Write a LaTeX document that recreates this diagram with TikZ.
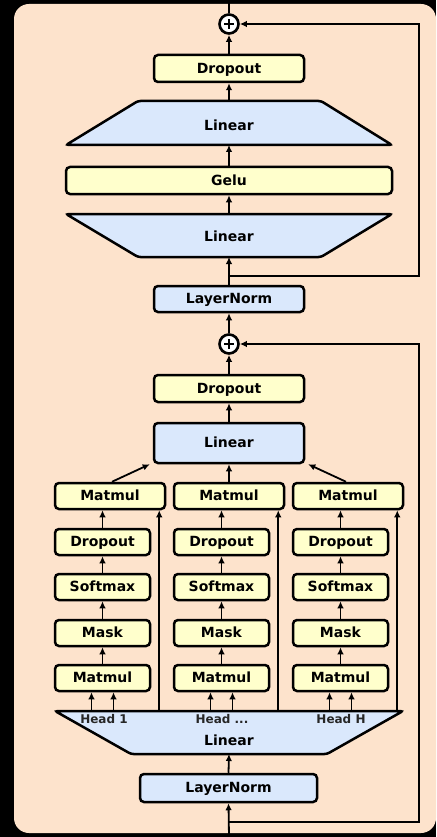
\documentclass[tikz,border=0pt]{standalone}
\usepackage{fontspec}
\setmainfont{DejaVu Sans}
\usepackage{tikz}
\usetikzlibrary{positioning,arrows.meta}

\definecolor{peach}{HTML}{FDE3CC}
\definecolor{lightyel}{HTML}{FFFFCC}
\definecolor{lightblu}{HTML}{DAE8FC}

\tikzset{
  box/.style={draw, line width=2.5pt, rounded corners=4pt, inner sep=0pt,
    text height=9.6pt, text depth=0pt, font=\bfseries\fontsize{14}{16}\selectfont},
  ybox/.style={box, fill=lightyel},
  bbox/.style={box, fill=lightblu},
  trap/.style={draw, line width=2.5pt, rounded corners=2.5pt, fill=lightblu},
  lbl/.style={font=\bfseries\fontsize{14}{16}\selectfont},
  headlbl/.style={font=\bfseries\fontsize{12}{14}\selectfont, text=black!85},
  wire/.style={line width=1.8pt},
  arr/.style={wire, -{Latex[length=7pt,width=6.5pt]}},
  addop/.style={circle, draw, line width=2.6pt, fill=white, minimum size=19pt, inner sep=0pt,
    path picture={\draw[line width=2.4pt] (path picture bounding box.center) +(-5pt,0) -- +(5pt,0)
      (path picture bounding box.center) +(0,-5pt) -- +(0,5pt);}},
}

\begin{document}
\begin{tikzpicture}[x=1pt,y=-1pt]
\useasboundingbox (0,0) rectangle (436,837);
\fill[black] (0,0) rectangle (436,837);
\fill[peach, rounded corners=15pt] (14,4) rectangle (436,833);

% mlp block
\node[addop] (addB) at (229,24) {};
\node[ybox, minimum width=150pt, minimum height=27pt] (dropB) at (229,68.5) {Dropout};
\draw[trap] (66,145) -- (138,101) -- (321,101) -- (392,145) -- cycle;
\node[lbl] (linB) at (229,125.5) {Linear};
\coordinate (linBt) at (229,101);
\coordinate (linBb) at (229,145);
\node[ybox, minimum width=326pt, minimum height=27pt] (gelu) at (229,180.5) {Gelu};
\draw[trap] (66,214) -- (392,214) -- (321,257) -- (138,257) -- cycle;
\node[lbl] (linA) at (229,236) {Linear};
\coordinate (linAt) at (229,214);
\coordinate (linAb) at (229,257);
\node[bbox, minimum width=150pt, minimum height=26pt] (normB) at (229,299) {LayerNorm};
\coordinate (splitB) at (229,276);
\coordinate (rightB) at (419,276);
\coordinate (out) at (229,0);

\draw[wire] (addB.north) -- (out);
\draw[arr] (dropB.north) -- (addB.south);
\draw[arr] (linBt) -- (dropB.south);
\draw[arr] (gelu.north) -- (linBb);
\draw[arr] (linAt) -- (gelu.south);
\draw[arr] (normB.north) -- (linAb);
\draw[arr] (splitB) -- (rightB) |- (addB.east);

% attention block
\node[addop] (addA) at (229,344) {};
\node[ybox, minimum width=150pt, minimum height=27pt] (dropA) at (229,388.5) {Dropout};
\node[bbox, minimum width=150pt, minimum height=40pt] (linP) at (229,443) {Linear};

\node[ybox, minimum width=110pt, minimum height=26pt] (mmT1) at (110,496) {Matmul};
\node[ybox, minimum width=110pt, minimum height=26pt] (mmT2) at (229,496) {Matmul};
\node[ybox, minimum width=110pt, minimum height=26pt] (mmT3) at (348,496) {Matmul};

\node[ybox, minimum width=95pt, minimum height=26pt] (drop1) at (102.5,542) {Dropout};
\node[ybox, minimum width=95pt, minimum height=26pt] (drop2) at (221.5,542) {Dropout};
\node[ybox, minimum width=95pt, minimum height=26pt] (drop3) at (340.5,542) {Dropout};

\node[ybox, minimum width=95pt, minimum height=26pt] (soft1) at (102.5,587) {Softmax};
\node[ybox, minimum width=95pt, minimum height=26pt] (soft2) at (221.5,587) {Softmax};
\node[ybox, minimum width=95pt, minimum height=26pt] (soft3) at (340.5,587) {Softmax};

\node[ybox, minimum width=95pt, minimum height=26pt] (mask1) at (102.5,633) {Mask};
\node[ybox, minimum width=95pt, minimum height=26pt] (mask2) at (221.5,633) {Mask};
\node[ybox, minimum width=95pt, minimum height=26pt] (mask3) at (340.5,633) {Mask};

\node[ybox, minimum width=95pt, minimum height=26pt] (mmB1) at (102.5,678) {Matmul};
\node[ybox, minimum width=95pt, minimum height=26pt] (mmB2) at (221.5,678) {Matmul};
\node[ybox, minimum width=95pt, minimum height=26pt] (mmB3) at (340.5,678) {Matmul};

\draw[trap] (55,711) -- (403,711) -- (327,754) -- (131,754) -- cycle;
\node[lbl] (linC) at (229,740) {Linear};
\node[headlbl] (head1) at (104,719) {Head 1};
\node[headlbl] (head2) at (222,719) {Head ...};
\node[headlbl] (head3) at (341,719) {Head H};
\coordinate (linCt) at (229,711);
\coordinate (linCb) at (229,754);

\node[bbox, minimum width=177pt, minimum height=28pt] (normA) at (228.5,788) {LayerNorm};
\coordinate (in) at (229,837);
\coordinate (splitA) at (229,822);
\coordinate (rightA) at (419,822);

\draw[arr] (in) -- (normA.south);
\draw[arr] (splitA) -- (rightA) |- (addA.east);
\draw[arr] (normA.north) -- (linCb);

\draw[arr] ([xshift=-11pt]mmB1.south |- linCt) -- ([xshift=-11pt]mmB1.south);
\draw[arr] ([xshift=11pt]mmB1.south |- linCt) -- ([xshift=11pt]mmB1.south);
\draw[arr] ([xshift=-11pt]mmB2.south |- linCt) -- ([xshift=-11pt]mmB2.south);
\draw[arr] ([xshift=11pt]mmB2.south |- linCt) -- ([xshift=11pt]mmB2.south);
\draw[arr] ([xshift=-11pt]mmB3.south |- linCt) -- ([xshift=-11pt]mmB3.south);
\draw[arr] ([xshift=11pt]mmB3.south |- linCt) -- ([xshift=11pt]mmB3.south);

\draw[arr] (mmB1.north) -- (mask1.south);
\draw[arr] (mmB2.north) -- (mask2.south);
\draw[arr] (mmB3.north) -- (mask3.south);
\draw[arr] (mask1.north) -- (soft1.south);
\draw[arr] (mask2.north) -- (soft2.south);
\draw[arr] (mask3.north) -- (soft3.south);
\draw[arr] (soft1.north) -- (drop1.south);
\draw[arr] (soft2.north) -- (drop2.south);
\draw[arr] (soft3.north) -- (drop3.south);
\draw[arr] (drop1.north) -- (drop1.north |- mmT1.south);
\draw[arr] (drop2.north) -- (drop2.north |- mmT2.south);
\draw[arr] (drop3.north) -- (drop3.north |- mmT3.south);

\draw[arr] ([xshift=-7pt]mmT1.south east |- linCt) -- ([xshift=-7pt]mmT1.south east);
\draw[arr] ([xshift=-7pt]mmT2.south east |- linCt) -- ([xshift=-7pt]mmT2.south east);
\draw[arr] ([xshift=-7pt]mmT3.south east |- linCt) -- ([xshift=-7pt]mmT3.south east);

\draw[arr] ([xshift=2pt]mmT1.north) -- ([xshift=-3pt]linP.south west);
\draw[arr] (mmT2.north) -- (linP.south);
\draw[arr] ([xshift=-2pt]mmT3.north) -- ([xshift=3pt]linP.south east);

\draw[arr] (linP.north) -- (dropA.south);
\draw[arr] (dropA.north) -- (addA.south);
\draw[arr] (addA.north) -- (normB.south);
\end{tikzpicture}
\end{document}
